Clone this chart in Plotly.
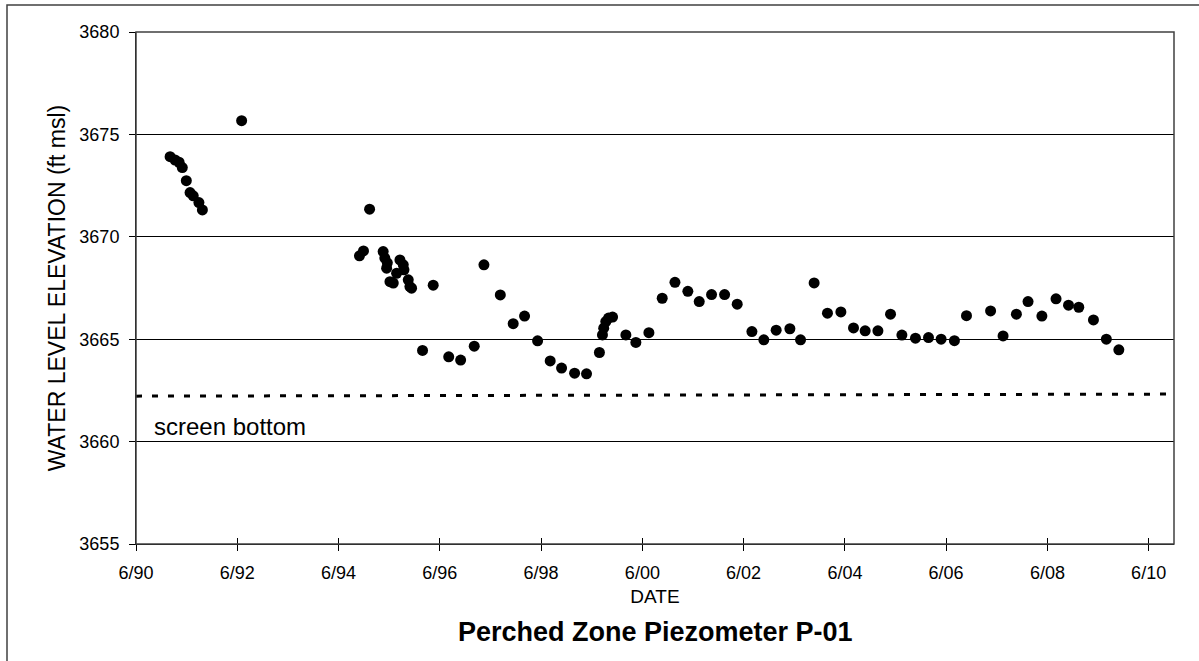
import plotly.graph_objects as go

dates = [
    "1991-02-02", "1991-03-10", "1991-04-08", "1991-05-01", "1991-05-30",
    "1991-06-26", "1991-07-19", "1991-08-29", "1991-09-23", "1992-07-02",
    "1994-10-30", "1994-11-28", "1995-01-11", "1995-04-19", "1995-05-01",
    "1995-05-14", "1995-05-19", "1995-06-07", "1995-07-01", "1995-07-25",
    "1995-08-18", "1995-09-11", "1995-09-16", "1995-10-17", "1995-10-29",
    "1995-11-10", "1996-01-28", "1996-04-14", "1996-08-04", "1996-10-29",
    "1997-02-04", "1997-04-15", "1997-08-11", "1997-11-12", "1998-02-02",
    "1998-05-07", "1998-08-06", "1998-10-27", "1999-01-29", "1999-04-25",
    "1999-07-27", "1999-08-18", "1999-08-27", "1999-09-11", "1999-10-01",
    "1999-10-30", "2000-02-03", "2000-04-15", "2000-07-18", "2000-10-22",
    "2001-01-22", "2001-04-25", "2001-07-16", "2001-10-13", "2002-01-15",
    "2002-04-16", "2002-07-31", "2002-10-25", "2003-01-22", "2003-05-01",
    "2003-07-17", "2003-10-23", "2004-01-27", "2004-05-03", "2004-08-02",
    "2004-10-25", "2005-01-25", "2005-04-26", "2005-07-17", "2005-10-23",
    "2006-01-25", "2006-04-26", "2006-07-31", "2006-10-26", "2007-04-18",
    "2007-07-17", "2007-10-21", "2008-01-13", "2008-04-22", "2008-08-02",
    "2008-10-31", "2009-01-13", "2009-04-29", "2009-07-31", "2009-10-29",
]
elevation = [
    3673.91, 3673.75, 3673.64, 3673.38, 3672.74,
    3672.16, 3672.00, 3671.67, 3671.31, 3675.67,
    3669.07, 3669.31, 3671.35, 3669.28, 3668.96,
    3668.47, 3668.73, 3667.81, 3667.74, 3668.22,
    3668.87, 3668.63, 3668.39, 3667.90, 3667.57,
    3667.49, 3664.45, 3667.64, 3664.14, 3663.98,
    3664.66, 3668.63, 3667.16, 3665.76, 3666.13,
    3664.92, 3663.94, 3663.59, 3663.34, 3663.31,
    3664.35, 3665.21, 3665.54, 3665.86, 3666.03,
    3666.08, 3665.21, 3664.84, 3665.32, 3667.00,
    3667.78, 3667.34, 3666.84, 3667.18, 3667.18,
    3666.71, 3665.37, 3664.97, 3665.44, 3665.51,
    3664.97, 3667.75, 3666.27, 3666.33, 3665.55,
    3665.41, 3665.41, 3666.22, 3665.20, 3665.05,
    3665.08, 3665.00, 3664.93, 3666.15, 3666.38,
    3665.16, 3666.22, 3666.84, 3666.13, 3666.97,
    3666.66, 3666.56, 3665.94, 3665.00, 3664.48,
]

screen_dates = ["1990-06-01", "2010-12-01"]
screen_bottom = [3662.22, 3662.32]

x_range = ["1990-06-01", "2010-12-01"]
y_range = [3655, 3680]

FONT = "Liberation Sans, Arial, sans-serif"

fig = go.Figure()
fig.add_trace(go.Scatter(
    x=screen_dates, y=screen_bottom, mode="lines",
    line=dict(color="black", width=3, dash="6px,10px"),
    hoverinfo="skip", showlegend=False,
))
fig.add_trace(go.Scatter(
    x=dates, y=elevation, mode="markers",
    marker=dict(color="black", size=11, line=dict(width=0)),
    showlegend=False,
))

fig.update_layout(
    width=1199, height=661,
    margin=dict(l=136, r=25, t=32, b=117),
    paper_bgcolor="white", plot_bgcolor="white",
    font=dict(family=FONT, color="black", size=18),
    showlegend=False,
    xaxis=dict(
        type="date", range=x_range, tick0="1990-06-01", dtick="M24",
        tickformat="%-m/%y", showgrid=False, showline=True,
        linecolor="black", linewidth=1, ticks="outside", ticklen=6,
        tickcolor="black", tickfont=dict(size=18), ticklabelstandoff=6,
        title=dict(text="DATE", font=dict(size=19), standoff=8),
        zeroline=False,
    ),
    xaxis2=dict(
        type="date", range=x_range, tick0="1990-06-01", dtick="M24",
        overlaying="x", matches="x", anchor="y", side="bottom",
        showticklabels=False, showgrid=False, showline=False,
        ticks="inside", ticklen=6, tickcolor="black",
    ),
    yaxis=dict(
        range=y_range, dtick=5, showgrid=True, gridcolor="black",
        gridwidth=1, showline=True, linecolor="black", linewidth=1,
        ticks="outside", ticklen=6, tickcolor="black",
        tickfont=dict(size=18), ticklabelstandoff=6, zeroline=False,
        title=dict(text="WATER LEVEL ELEVATION (ft msl)", font=dict(size=23),
                   standoff=7),
    ),
    annotations=[
        dict(text="screen bottom", xref="paper", yref="paper",
             x=(152 - 136) / 1038, y=(544 - 426) / 512,
             xanchor="left", yanchor="middle", showarrow=False,
             font=dict(size=24)),
        dict(text="<b>Perched Zone Piezometer P-01</b>", xref="paper",
             yref="paper", x=0.5, y=(544 - 632) / 512, xanchor="center",
             yanchor="middle", showarrow=False, font=dict(size=27)),
    ],
    shapes=[
        dict(type="rect", xref="paper", yref="paper", x0=0, x1=1, y0=0, y1=1,
             line=dict(color="#404040", width=1.5), layer="above"),
        dict(type="rect", xref="paper", yref="paper",
             x0=(7 - 136) / 1038, x1=(1210 - 136) / 1038,
             y0=(544 - 680) / 512, y1=(544 - 5) / 512,
             line=dict(color="#404040", width=1.5), layer="above"),
    ],
)
fig.add_trace(go.Scatter(x=[x_range[0]], y=[y_range[0]], xaxis="x2",
                         mode="markers", marker=dict(opacity=0),
                         hoverinfo="skip", showlegend=False))

fig.write_html("out.html")
